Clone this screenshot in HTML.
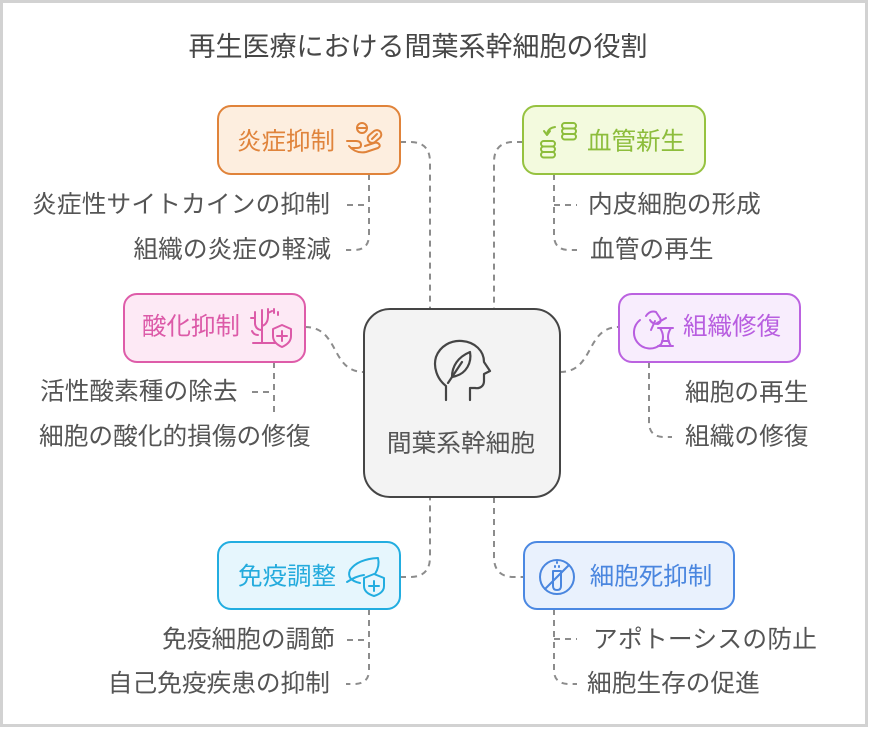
<!DOCTYPE html>
<html>
<head>
<meta charset="utf-8">
<style>
  html, body { margin: 0; padding: 0; background: #ffffff; }
  body { width: 869px; height: 729px; overflow: hidden; }
  svg { display: block; }
  text { font-family: "Liberation Sans", "Noto Sans CJK JP", sans-serif; }
</style>
</head>
<body>
<svg width="869" height="729" viewBox="0 0 869 729" xmlns="http://www.w3.org/2000/svg">
  <rect x="0" y="0" width="869" height="729" fill="#ffffff"/>
  <rect x="1.5" y="1.5" width="865" height="724" fill="none" stroke="#d2d2d2" stroke-width="3"/>

  <!-- Title -->
  <text x="418" y="47" font-size="27" fill="#474747" text-anchor="middle" dominant-baseline="central">再生医療における間葉系幹細胞の役割</text>

  <!-- Connectors -->
  <g fill="none" stroke="#8c8c8c" stroke-width="2" stroke-dasharray="6 5">
    <path d="M400,142 H410 Q430,142 430,162 V309"/>
    <path d="M523,142 H514 Q494,142 494,162 V309"/>
    <path d="M305,327 C340,327 330,372 364,372"/>
    <path d="M560,372 C595,372 585,327 619,327"/>
    <path d="M400,577 H410 Q430,577 430,557 V497"/>
    <path d="M494,497 V557 Q494,577 514,577 H524"/>

    <path d="M369,174 V235 Q369,250 354,250 H346"/>
    <path d="M347,205 H369"/>
    <path d="M554,174 V235 Q554,250 569,250 H577"/>
    <path d="M554,205 H577"/>
    <path d="M274,362 V415"/>
    <path d="M252,392 H274"/>
    <path d="M649,362 V422 Q649,437 664,437 H672"/>
    <path d="M369,609 V670 Q369,684 354,684 H346"/>
    <path d="M347,640 H369"/>
    <path d="M554,609 V670 Q554,684 569,684 H577"/>
    <path d="M554,639 H577"/>
  </g>

  <!-- Center box -->
  <rect x="364" y="309" width="196" height="188" rx="26" fill="#f3f3f3" stroke="#454545" stroke-width="2"/>
  <g fill="none" stroke="#454545" stroke-width="2.2" stroke-linecap="round" stroke-linejoin="round">
    <path d="M446,400 V386 C437,379 433,367 436,357 C440,346 451,340 462,341 C475,342 484,351 484,362 L490,371 L484,374 V381 C484,386 480,389 475,388 H470 V400"/>
    <path d="M452,377 C452,366 458,357 470,352 C472,363 466,373 456,376 Z"/>
    <path d="M448,383 L462,362"/>
  </g>
  <text x="461" y="444" font-size="24.7" fill="#555555" text-anchor="middle" dominant-baseline="central">間葉系幹細胞</text>

  <!-- 炎症抑制 (orange) -->
  <rect x="218" y="106" width="182" height="68" rx="13" fill="#fdeedf" stroke="#e0833a" stroke-width="2"/>
  <text x="286" y="142" font-size="24.5" fill="#e0843c" text-anchor="middle" dominant-baseline="central">炎症抑制</text>
  <g fill="none" stroke="#e0833a" stroke-width="2" stroke-linecap="round" stroke-linejoin="round">
    <circle cx="362" cy="128" r="5"/>
    <path d="M357,128 H367"/>
    <rect x="367" y="132" width="15" height="9" rx="4.5" transform="rotate(-40 374.5 136.5)"/>
    <path d="M372,139 L377,134"/>
    <path d="M347,141 H356 Q361,141 361,145 Q361,148 357,148 H351"/>
    <path d="M349,146 Q356,154 366,152 L378,148 Q381,146 379,144 Q377,142 374,143 L365,146"/>
  </g>

  <!-- 血管新生 (green) -->
  <rect x="523" y="106" width="182" height="68" rx="13" fill="#f3fade" stroke="#96c240" stroke-width="2"/>
  <text x="636" y="142" font-size="24.5" fill="#8dbd3c" text-anchor="middle" dominant-baseline="central">血管新生</text>
  <g fill="none" stroke="#8dbd3c" stroke-width="2" stroke-linecap="round" stroke-linejoin="round">
    <rect x="541" y="141" width="14" height="5.5" rx="2.7"/>
    <rect x="541" y="146.5" width="14" height="5.5" rx="2.7"/>
    <rect x="541" y="152" width="14" height="5.5" rx="2.7"/>
    <rect x="562" y="123" width="14" height="5.5" rx="2.7"/>
    <rect x="562" y="128.5" width="14" height="5.5" rx="2.7"/>
    <rect x="562" y="134" width="14" height="5.5" rx="2.7"/>
    <path d="M555,127 Q548,128 547,134"/>
    <path d="M544,131 L547,135 L550,131"/>
  </g>

  <!-- 酸化抑制 (pink) -->
  <rect x="124" y="294" width="181" height="68" rx="13" fill="#fde9f5" stroke="#de5ca9" stroke-width="2"/>
  <text x="191" y="327" font-size="24.5" fill="#dc5aa8" text-anchor="middle" dominant-baseline="central">酸化抑制</text>
  <g fill="none" stroke="#dc5aa8" stroke-width="2" stroke-linecap="round" stroke-linejoin="round">
    <path d="M253,343 H275"/>
    <path d="M262,343 V320 M262,330 Q256,330 255,324 M262,326 Q268,324 268,316 M255,324 V312 M255,318 H251 M268,316 V309 M268,313 L272,311 M262,320 V310 M258,335 Q254,335 252,331"/>
    <path d="M274,309 V313 M278,312 V315"/>
    <path d="M282,325 L291,329 V336 Q291,343 282,347 Q273,343 273,336 V329 Z"/>
    <path d="M282,331 V341 M277,336 H287"/>
  </g>

  <!-- 組織修復 (purple) -->
  <rect x="619" y="294" width="181" height="68" rx="13" fill="#f8edfd" stroke="#bb62e0" stroke-width="2"/>
  <text x="732" y="327" font-size="24.5" fill="#b85ee0" text-anchor="middle" dominant-baseline="central">組織修復</text>
  <g fill="none" stroke="#b85ee0" stroke-width="2" stroke-linecap="round" stroke-linejoin="round">
    <path d="M640,320 A14,14 0 1 0 660,345"/>
    <path d="M646,316 Q650,310 656,312 L660,318 Q662,322 658,324 Q652,324 650,320"/>
    <path d="M655,321 L651,330 M657,323 L666,318"/>
    <path d="M658,328 H673 M658,346 H673 M660,328 Q666,337 660,346 M671,328 Q665,337 671,346 M662,341 H669"/>
  </g>

  <!-- 免疫調整 (cyan) -->
  <rect x="218" y="542" width="182" height="67" rx="13" fill="#e6f6fd" stroke="#22ade0" stroke-width="2"/>
  <text x="287" y="577" font-size="24.5" fill="#24abdd" text-anchor="middle" dominant-baseline="central">免疫調整</text>
  <g fill="none" stroke="#22ade0" stroke-width="2" stroke-linecap="round" stroke-linejoin="round">
    <path d="M360,583 Q346,580 350,570 Q358,559 378,558 Q380,566 375,574"/>
    <path d="M347,582 Q356,576 364,575"/>
    <path d="M374,574 L384,578 V586 Q384,593 374,596 Q364,593 364,586 V578 Z"/>
    <path d="M374,581 V591 M369,586 H379"/>
  </g>

  <!-- 細胞死抑制 (blue) -->
  <rect x="524" y="542" width="210" height="67" rx="13" fill="#e9f1fd" stroke="#4b88e2" stroke-width="2"/>
  <text x="651" y="577" font-size="24.5" fill="#4a86df" text-anchor="middle" dominant-baseline="central">細胞死抑制</text>
  <g fill="none" stroke="#4a86df" stroke-width="2" stroke-linecap="round" stroke-linejoin="round">
    <circle cx="557" cy="577" r="17"/>
    <path d="M545,589 L569,565"/>
    <path d="M553,571 V586 Q553,590 557,590 Q561,590 561,586 V571 Z"/>
    <path d="M555,566 V567 M559,566 V567 M557,562 V563"/>
  </g>

  <!-- Sub-item texts -->
  <g font-size="24.7" fill="#555555" dominant-baseline="central">
    <text x="330" y="205" text-anchor="end" textLength="298" lengthAdjust="spacing">炎症性サイトカインの抑制</text>
    <text x="331" y="250" text-anchor="end">組織の炎症の軽減</text>
    <text x="588" y="205">内皮細胞の形成</text>
    <text x="590" y="250">血管の再生</text>
    <text x="40" y="392">活性酸素種の除去</text>
    <text x="39" y="437">細胞の酸化的損傷の修復</text>
    <text x="685" y="393">細胞の再生</text>
    <text x="685" y="437">組織の修復</text>
    <text x="335" y="640" text-anchor="end">免疫細胞の調節</text>
    <text x="330" y="684" text-anchor="end">自己免疫疾患の抑制</text>
    <text x="593" y="640" textLength="224" lengthAdjust="spacing">アポトーシスの防止</text>
    <text x="587" y="684">細胞生存の促進</text>
  </g>
</svg>
</body>
</html>
